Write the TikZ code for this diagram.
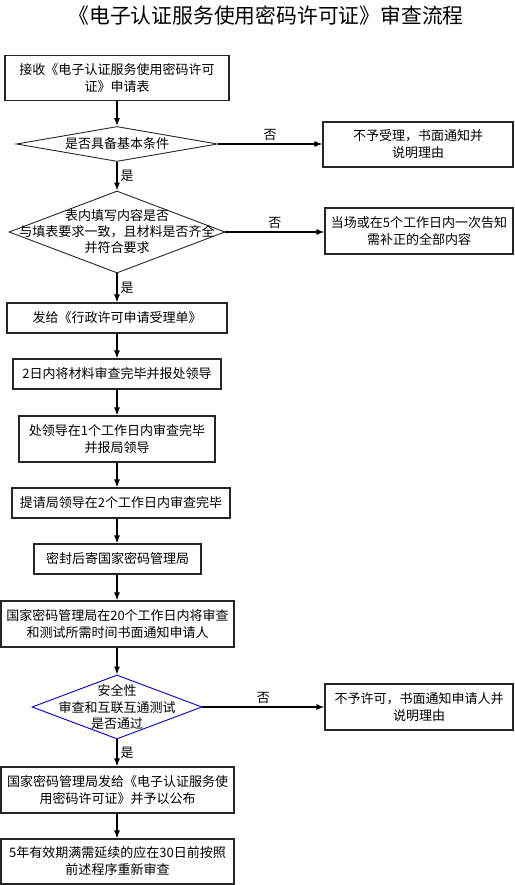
\documentclass[tikz,border=0pt]{standalone}
\usepackage{fontspec}
\setmainfont{Noto Sans CJK SC}
\usetikzlibrary{shapes.geometric, arrows.meta}

\begin{document}
\begin{tikzpicture}[x=1pt, y=-1pt, font=\fontsize{13}{17}\selectfont,
        box/.style={draw=black!85, line width=1.1pt, align=center, inner sep=1pt},
        decision/.style={diamond, draw=black!85, line width=0.9pt, inner sep=0pt},
        flow/.style={-{Latex[length=8pt, width=6pt]}, line width=1.2pt},
        yes/.style={right, inner sep=3pt}, no/.style={above, inner sep=3pt}]
        \useasboundingbox (0,0) rectangle (514,885);
        \node (title) at (266,16) {\fontsize{20.8}{24}\selectfont 《电子认证服务使用密码许可证》审查流程};

        \node[box, minimum width=224, minimum height=45] (recv) at (117,78) {接收《电子认证服务使用密码许可\\证》申请表};
        \node[decision, minimum width=201, minimum height=35] (basic) at (117,144) {};
        \node (basictext) at (basic) {是否具备基本条件};
        \node[box, minimum width=190, minimum height=45] (refuse) at (418,144.5) {不予受理，书面通知并\\说明理由};
        \node[decision, minimum width=216, minimum height=82] (form) at (117,232) {};
        \node[align=center, font=\fontsize{13}{16}\selectfont] (formtext) at (form) {表内填写内容是否\\与填表要求一致，且材料是否齐全\\并符合要求};
        \node[box, minimum width=188, minimum height=46] (amend) at (419,231) {当场或在5个工作日内一次告知\\需补正的全部内容};

        \node[box, minimum width=220, minimum height=30] (accept) at (117,318) {发给《行政许可申请受理单》};
        \node[box, minimum width=208, minimum height=30] (check) at (117,374) {2日内将材料审查完毕并报处领导};
        \node[box, minimum width=196, minimum height=46] (section) at (117,439) {处领导在1个工作日内审查完毕\\并报局领导};
        \node[box, minimum width=218, minimum height=30] (bureau) at (121,503) {提请局领导在2个工作日内审查完毕};
        \node[box, minimum width=167, minimum height=30] (seal) at (117.5,559) {密封后寄国家密码管理局};
        \node[box, minimum width=233, minimum height=46] (notice) at (117.5,624) {国家密码管理局在20个工作日内将审查\\和测试所需时间书面通知申请人};
        \node[decision, draw=blue!80!black, minimum width=170, minimum height=64] (test) at (117,707) {};
        \node[align=center, font=\fontsize{13}{16.5}\selectfont] (testtext) at (test) {安全性\\审查和互联互通测试\\是否通过};
        \node[box, minimum width=188, minimum height=46] (deny) at (419,707) {不予许可，书面通知申请人并\\说明理由};
        \node[box, minimum width=233, minimum height=46] (issue) at (117.5,790) {国家密码管理局发给《电子认证服务使\\用密码许可证》并予以公布};
        \node[box, minimum width=233, minimum height=45] (renew) at (117.5,861.5) {5年有效期满需延续的应在30日前按照\\前述程序重新审查};

        \draw[flow] (recv.south -| basic) -- (basic.north);
        \draw[flow] (basic) -- node[yes]{是} (form);
        \draw[flow] (form) -- node[yes]{是} (accept);
        \draw[flow] (basic.east) -- node[no]{否} (refuse.west |- basic);
        \draw[flow] (form.east) -- node[no]{否} (amend.west |- form);
        \draw[flow] (test.east) -- node[no]{否} (deny.west |- test);
        \draw[flow] (accept) -- (check);
        \draw[flow] (check) -- (section);
        \draw[flow] (section.south) -- (section.south |- bureau.north);
        \draw[flow] (section.south |- bureau.south) -- (seal.north -| section);
        \draw[flow] (seal.south -| section) -- (notice.north -| section);
        \draw[flow] (notice.south -| test) -- (test.north);
        \draw[flow] (test) -- node[yes]{是} (issue.north -| test);
        \draw[flow] (issue.south -| test) -- (renew.north -| test);
\end{tikzpicture}
\end{document}
